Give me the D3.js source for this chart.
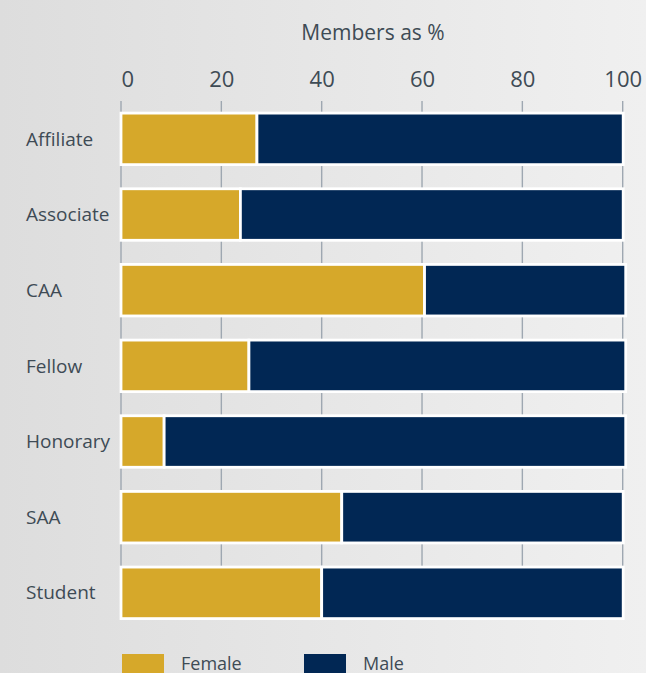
<!DOCTYPE html>
<html>
<head>
<meta charset="utf-8">
<script src="https://cdn.jsdelivr.net/npm/d3@7"></script>
<style>
  html, body { margin: 0; padding: 0; }
  body { width: 646px; height: 673px; overflow: hidden; }
  text { font-family: "Open Sans", Lato, sans-serif; fill: #3e4b55; }
</style>
</head>
<body>
<div id="chart"></div>
<script>
// membership by grade, percent of members
const grades = ["Affiliate", "Associate", "CAA", "Fellow", "Honorary", "SAA", "Student"];
const female = [27.1, 23.8, 60.5, 25.5, 8.6, 44.0, 40.0];
const male = [73.0, 76.3, 40.1, 75.1, 92.0, 56.1, 60.1];
const xTicks = [0, 20, 40, 60, 80, 100];
const seriesNames = ["Female", "Male"];
const seriesColors = ["#d6a82a", "#012754"];

const width = 646;
const height = 673;

const svg = d3.select("#chart")
  .append("svg")
  .attr("width", width)
  .attr("height", height);

// soft grey background, lighter to the right
const grad = svg.append("defs")
  .append("linearGradient")
  .attr("id", "bg")
  .attr("x1", "0%").attr("x2", "100%")
  .attr("y1", "0%").attr("y2", "0%");
grad.append("stop").attr("offset", "0%").attr("stop-color", "#dddddd");
grad.append("stop").attr("offset", "100%").attr("stop-color", "#f0f0f0");
svg.append("rect")
  .attr("width", width)
  .attr("height", height)
  .attr("fill", "url(#bg)");

const xScale = d3.scaleLinear()
  .domain([0, 100])
  .range([121, 622.7]);

const yScale = d3.scaleBand()
  .domain(grades)
  .range([101, 630.7])
  .paddingInner(0.319)
  .paddingOuter(0.16);

// stack the two series per grade
const rows = grades.map((g, i) => ({ grade: g, Female: female[i], Male: male[i] }));
const stacked = d3.stack().keys(seriesNames)(rows);

// axis title
svg.append("text")
  .attr("x", 373)
  .attr("y", 40)
  .attr("text-anchor", "middle")
  .style("font-size", "21px")
  .text("Members as %");

// tick labels on top
const axis = svg.append("g")
  .attr("transform", "translate(0,87)")
  .call(d3.axisTop(xScale).tickValues(xTicks).tickSize(0).tickPadding(0));
axis.select(".domain").remove();
axis.selectAll("text")
  .style("font-size", "22px")
  .style("font-family", "'Open Sans', Lato, sans-serif")
  .attr("fill", "#3e4b55")
  .attr("dy", 0)
  .attr("text-anchor", (d, i) => i === 0 ? "start" : "middle");

// vertical grid lines, seen in the gaps between bars
const lastBottom = yScale(grades[grades.length - 1]) + yScale.bandwidth();
svg.append("g")
  .selectAll("line")
  .data(xTicks)
  .join("line")
  .attr("x1", d => xScale(d))
  .attr("x2", d => xScale(d))
  .attr("y1", yScale.range()[0])
  .attr("y2", lastBottom)
  .attr("stroke", "#9ea7b1")
  .attr("stroke-width", 1.4);

// bars
svg.append("g")
  .selectAll("g")
  .data(stacked)
  .join("g")
  .attr("fill", (d, i) => seriesColors[i])
  .selectAll("rect")
  .data(d => d)
  .join("rect")
  .attr("x", d => xScale(d[0]))
  .attr("width", d => xScale(d[1]) - xScale(d[0]))
  .attr("y", d => yScale(d.data.grade))
  .attr("height", yScale.bandwidth())
  .attr("stroke", "#ffffff")
  .attr("stroke-width", 2.8);

// category labels
svg.append("g")
  .selectAll("text")
  .data(grades)
  .join("text")
  .attr("x", 26)
  .attr("y", d => yScale(d) + yScale.bandwidth() / 2)
  .attr("dy", "0.35em")
  .style("font-size", "19px")
  .text(d => d);

// legend (cut by the bottom edge, as in the source)
const legend = svg.append("g")
  .selectAll("g")
  .data(seriesNames)
  .join("g")
  .attr("transform", (d, i) => `translate(${122 + i * 182},654)`);
legend.append("rect")
  .attr("width", 42)
  .attr("height", 20)
  .attr("fill", (d, i) => seriesColors[i]);
legend.append("text")
  .attr("x", 59)
  .attr("y", 16)
  .style("font-size", "18px")
  .attr("fill", "#535d66")
  .text(d => d);
</script>
</body>
</html>
